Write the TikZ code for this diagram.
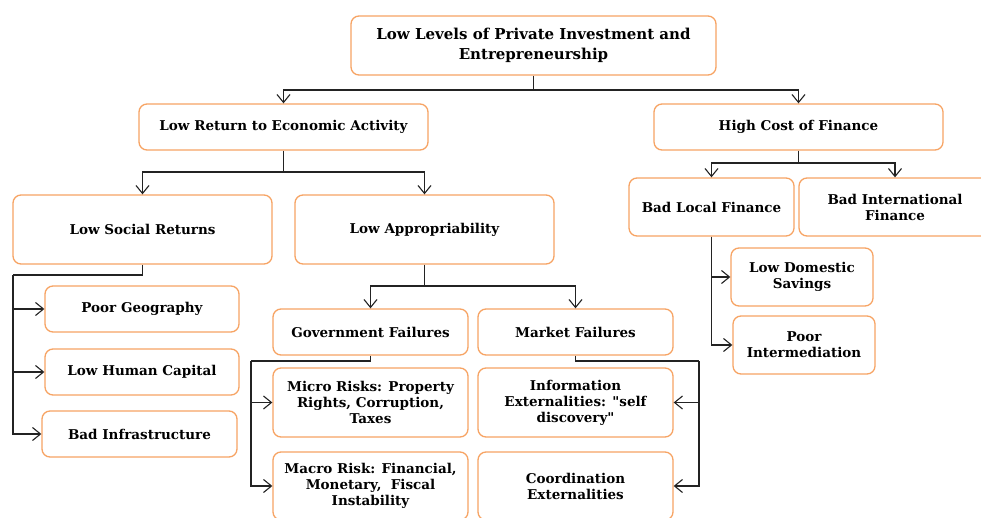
\documentclass[tikz,border=0pt]{standalone}
\usepackage{fontspec}
\newfontfamily\boxfont{DejaVu Serif}
\usetikzlibrary{arrows.meta}
\definecolor{boxorange}{RGB}{247,164,100}
\definecolor{linegray}{RGB}{35,35,35}
\tikzset{
  box/.style={draw=boxorange, line width=1.3pt, rounded corners=8pt, fill=white,
    align=center, inner sep=2pt, font=\boxfont\fontsize{13.5}{16}\selectfont\bfseries, text=black},
  conn/.style={draw=linegray, line width=1.2pt},
  arr/.style={conn, -{Straight Barb[length=8pt,width=13pt,line width=1.1pt]}},
}
\begin{document}
\begin{tikzpicture}[x=1pt,y=-1pt]
\fill[white] (0,0) rectangle (981,518);
\useasboundingbox (0,0) rectangle (981,518);
% boxes
\node[box, minimum width=365pt, minimum height=59pt, font=\boxfont\fontsize{15}{20}\selectfont\bfseries] (top) at (533.5,45.5) {Low Levels of Private Investment and\\Entrepreneurship};
\node[box, minimum width=289pt, minimum height=46pt] (lowret) at (283.5,127) {Low Return to Economic Activity};
\node[box, minimum width=289pt, minimum height=46pt] (highcost) at (798.5,127) {High Cost of Finance};
\node[box, minimum width=259pt, minimum height=69pt] (lowsoc) at (142.5,229.5) {Low Social Returns};
\node[box, minimum width=259pt, minimum height=69pt] (lowapp) at (424.5,229.5) {Low Appropriability};
\node[box, minimum width=165pt, minimum height=58pt] (badlocal) at (711.5,207) {Bad Local Finance};
\node[box, minimum width=192pt, minimum height=58pt] (badintl) at (895,207) {Bad International\\Finance};
\node[box, minimum width=142pt, minimum height=58pt] (lowdom) at (802,277) {Low Domestic\\Savings};
\node[box, minimum width=142pt, minimum height=58pt] (poorint) at (804,345) {Poor\\Intermediation};
\node[box, minimum width=194pt, minimum height=46pt] (poorgeo) at (142,309) {Poor Geography};
\node[box, minimum width=194pt, minimum height=46pt] (lowhum) at (142,372) {Low Human Capital};
\node[box, minimum width=195pt, minimum height=46pt] (badinf) at (139.5,434) {Bad Infrastructure};
\node[box, minimum width=195pt, minimum height=46pt] (gov) at (370.5,332) {Government Failures};
\node[box, minimum width=195pt, minimum height=46pt] (market) at (575.5,332) {Market Failures};
\node[box, minimum width=195pt, minimum height=69pt] (micro) at (370.5,402.5) {Micro Risks: Property\\Rights, Corruption,\\Taxes};
\node[box, minimum width=195pt, minimum height=68pt] (macro) at (370.5,486) {Macro Risk: Financial,\\Monetary,\ \ Fiscal\\Instability};
\node[box, minimum width=195pt, minimum height=69pt] (info) at (575.5,402.5) {Information\\Externalities: "self\\discovery"};
\node[box, minimum width=195pt, minimum height=68pt] (coord) at (575.5,486) {Coordination\\Externalities};
% junctions
\coordinate (j1) at (533.5,90);
\coordinate (j2) at (283.5,172);
\coordinate (j3) at (798.5,163);
\coordinate (j4) at (13,275);
\coordinate (j5) at (424.5,286);
\coordinate (j6) at (251,361);
\coordinate (j7) at (699,361);
% connectors
\draw[conn] (top.south) -- (j1);
\draw[arr] (j1) -| (lowret.north);
\draw[arr] (j1) -| (highcost.north);
\draw[conn] (lowret.south) -- (j2);
\draw[arr] (j2) -| (lowsoc.north);
\draw[arr] (j2) -| (lowapp.north);
\draw[conn] (highcost.south) -- (j3);
\draw[arr] (j3) -| (badlocal.north);
\draw[arr] (j3) -| (badintl.north);
\draw[arr] (badlocal.south) |- (lowdom.west);
\draw[arr] (badlocal.south) |- (poorint.west);
\draw[conn] (lowsoc.south) |- (j4);
\draw[arr] (j4) |- (poorgeo.west);
\draw[arr] (j4) |- (lowhum.west);
\draw[arr] (j4) |- (badinf.west);
\draw[conn] (lowapp.south) -- (j5);
\draw[arr] (j5) -| (gov.north);
\draw[arr] (j5) -| (market.north);
\draw[conn] (gov.south) |- (j6);
\draw[arr] (j6) |- (micro.west);
\draw[arr] (j6) |- (macro.west);
\draw[conn] (market.south) |- (j7);
\draw[arr] (j7) |- (info.east);
\draw[arr] (j7) |- (coord.east);
\end{tikzpicture}
\end{document}
